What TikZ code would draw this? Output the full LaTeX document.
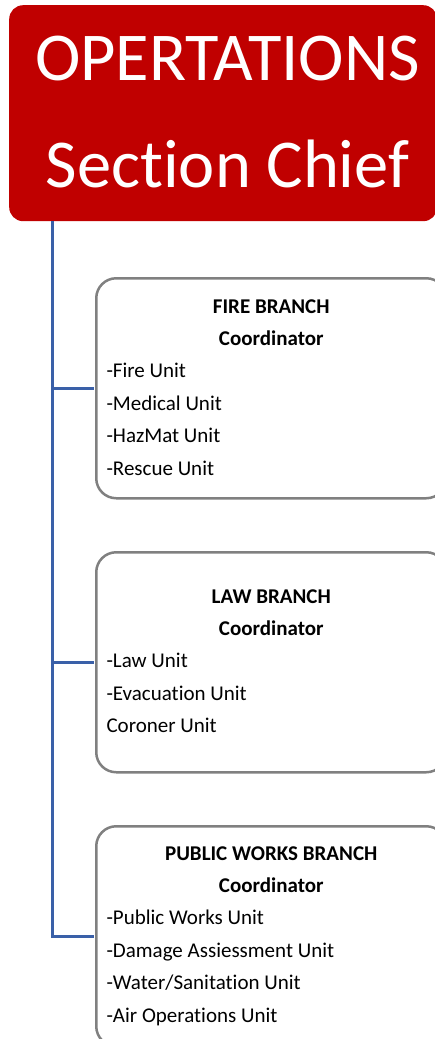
\documentclass[tikz,border=0pt]{standalone}
\usepackage{fontspec}
\setmainfont{Carlito}[Ligatures=CommonOff]
\usetikzlibrary{positioning}
\definecolor{chiefred}{RGB}{192,0,0}
\definecolor{linkblue}{RGB}{58,96,168}
\definecolor{boxgrey}{RGB}{128,128,128}
\begin{document}
\begin{tikzpicture}[x=1pt,y=-1pt,
    chief/.style={fill=chiefred, rounded corners=14pt, minimum width=428pt, minimum height=216pt, anchor=north west, inner sep=0pt},
    chieftext/.style={text=white, font=\fontsize{68.5}{68.5}\selectfont, anchor=base},
    branch/.style={draw=boxgrey, line width=2.5pt, rounded corners=20pt, minimum width=350pt, minimum height=220pt, anchor=north west, inner sep=0pt},
    head/.style={font=\fontsize{21}{21}\selectfont\bfseries, anchor=base},
    unit/.style={font=\fontsize{21}{21}\selectfont, anchor=base west},
    link/.style={draw=linkblue, line width=3pt, shorten >=1.2pt}]
    \useasboundingbox (0,0) rectangle (435,1039);
    \node[chief] (chief) at (9,5) {};
    \node[chieftext] (ops) at (227.5,80) {OPERTATIONS};
    \node[chieftext] (sec) at (227.5,187) {Section Chief};

    \node[branch] (fire) at (95,277) {};
    \node[branch] (law) at (95,551) {};
    \node[branch] (works) at (95,825) {};

    \node[head] (fire-title) at ([shift={(0,36)}]fire.north) {FIRE BRANCH};
    \node[head] (fire-coord) at ([shift={(0,32.5)}]fire-title.base) {Coordinator};
    \foreach \u [count=\i] in {-Fire Unit, -Medical Unit, -HazMat Unit, -Rescue Unit}
        \node[unit] (fire-\i) at ([shift={(8,68+32.5*\i)}]fire.north west) {\u};

    \node[head] (law-title) at ([shift={(0,52)}]law.north) {LAW BRANCH};
    \node[head] (law-coord) at ([shift={(0,32.5)}]law-title.base) {Coordinator};
    \foreach \u [count=\i] in {-Law Unit, -Evacuation Unit, Coroner Unit}
        \node[unit] (law-\i) at ([shift={(8,84+32.5*\i)}]law.north west) {\u};

    \node[head] (works-title) at ([shift={(0,35)}]works.north) {PUBLIC WORKS BRANCH};
    \node[head] (works-coord) at ([shift={(0,32.5)}]works-title.base) {Coordinator};
    \foreach \u [count=\i] in {-Public Works Unit, -Damage Assiessment Unit, {-Water/Sanitation Unit}, -Air Operations Unit}
        \node[unit] (works-\i) at ([shift={(8,67+32.5*\i)}]works.north west) {\u};

    \coordinate (spine) at (52,0);
    \draw[link] (chief.south -| spine) |- (works.west);
    \draw[link] (fire.west -| spine) -- (fire.west);
    \draw[link] (law.west -| spine) -- (law.west);
\end{tikzpicture}
\end{document}
